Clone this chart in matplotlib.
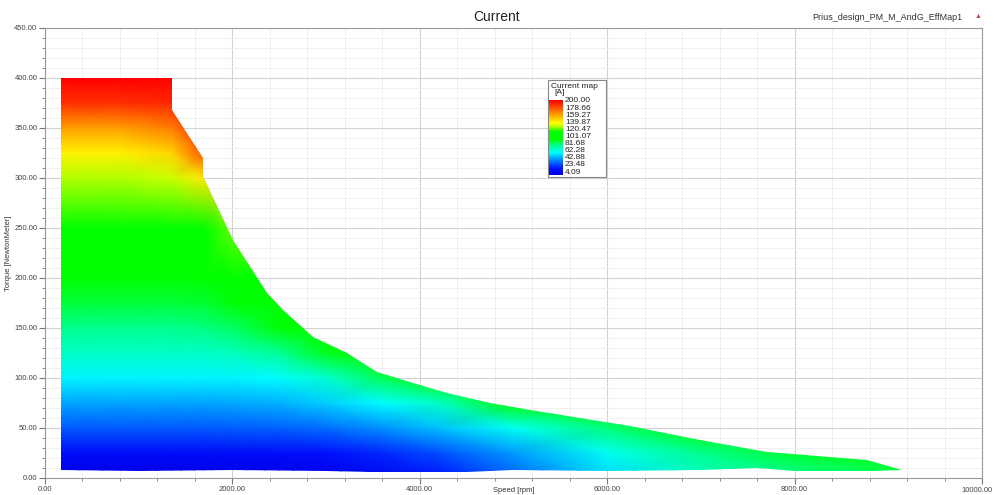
import numpy as np
import matplotlib
matplotlib.use("Agg")
import matplotlib.pyplot as plt
from matplotlib.colors import LinearSegmentedColormap, Normalize
from matplotlib.patches import Polygon, Rectangle
from matplotlib.ticker import MultipleLocator, FormatStrFormatter, FuncFormatter

plt.rcParams['font.family'] = ['Liberation Sans', 'DejaVu Sans']

# speed grid [rpm] and torque grid [Nm] for the current table
speed = [170, 800, 1355, 1690, 2000, 2500, 3000, 3600, 4200, 5000, 6000, 7000, 8000, 9200]
torque = [0, 25, 50, 75, 100, 125, 150, 175, 200, 250, 300, 325, 350, 375, 400]

# current [A], one row per torque value
current = [
    [4, 4, 4, 4, 4, 5, 6, 10, 20, 35, 55, 72, 80, 88],
    [15, 15, 15, 15, 16, 17, 19, 24, 32, 46, 64, 82, 92, 100],
    [34, 34, 34, 34, 35, 36, 38, 44, 52, 64, 84, 100, 106, 112],
    [47, 47, 47, 47, 48, 50, 54, 62, 72, 96, 108, 112, 116, 120],
    [60, 60, 60, 60, 60, 62, 70, 88, 104, 110, 115, 120, 122, 125],
    [72, 72, 72, 72, 73, 80, 94, 106, 112, 115, 118, 122, 125, 128],
    [82, 82, 82, 83, 86, 96, 106, 110, 114, 118, 120, 124, 127, 130],
    [91, 91, 91, 92, 96, 104, 110, 114, 116, 120, 122, 125, 128, 132],
    [100, 100, 100, 102, 108, 110, 114, 116, 120, 122, 125, 128, 130, 134],
    [112, 112, 112, 118, 125, 126, 128, 130, 132, 134, 136, 138, 140, 142],
    [131, 131, 134, 145, 152, 154, 156, 158, 160, 162, 164, 166, 168, 170],
    [143, 143, 150, 178, 180, 180, 180, 180, 180, 180, 180, 180, 180, 180],
    [162, 162, 170, 188, 190, 190, 190, 190, 190, 190, 190, 190, 190, 190],
    [188, 188, 190, 196, 196, 196, 196, 196, 196, 196, 196, 196, 196, 196],
    [200, 200, 200, 200, 200, 200, 200, 200, 200, 200, 200, 200, 200, 200],
]

# outline of the operating region
top_speed = [170, 1352, 1352, 1690, 1690, 2006, 2369, 2540, 2860, 3223, 3543, 3927, 4290, 4749,
             5176, 5710, 6243, 6990, 7705, 8773, 9146]
top_torque = [400, 400, 368, 320, 302, 238, 185, 168, 141, 125, 106, 95, 85, 75,
              68, 60, 52, 38, 26, 18, 8]
bot_speed = [8800, 8000, 7600, 7000, 6000, 5000, 4500, 3500, 3000, 2000, 1000, 170]
bot_torque = [7, 7, 10, 8, 7, 8, 6, 6, 7, 8, 7, 8]

legend_vals = ['200.00', '178.66', '159.27', '139.87', '120.47', '101.07',
               '81.68', '62.28', '42.88', '23.48', '4.09']

stops = [(4.09, '#0000e6'), (20, '#0010ff'), (40, '#0078ff'), (62, '#00ffff'),
         (82, '#00ff8c'), (97, '#00ff00'), (118, '#00ff00'), (130, '#aaff00'),
         (140, '#ffff00'), (160, '#ffaa00'), (180, '#ff5000'), (200, '#ff0000')]
vmin, vmax = 4.09, 200.0
cmap = LinearSegmentedColormap.from_list(
    'ansys', [((v - vmin) / (vmax - vmin), c) for v, c in stops])
norm = Normalize(vmin, vmax)

fig = plt.figure(figsize=(9.95, 4.95), dpi=100)
ax = fig.add_axes([45 / 995, 17 / 495, 937 / 995, 450 / 495])

mesh = ax.pcolormesh(speed, torque, np.array(current), shading='gouraud', cmap=cmap, norm=norm, zorder=2)
outline = Polygon(list(zip(top_speed + bot_speed, top_torque + bot_torque)), closed=True,
                  facecolor='none', edgecolor='none', transform=ax.transData)
ax.add_patch(outline)
mesh.set_clip_path(outline)

ax.set_xlim(0, 10000)
ax.set_ylim(0, 450)
ax.xaxis.set_major_locator(MultipleLocator(2000))
ax.xaxis.set_minor_locator(MultipleLocator(400))
ax.yaxis.set_major_locator(MultipleLocator(50))
ax.yaxis.set_minor_locator(MultipleLocator(10))
# last x label is drawn by hand so it stays inside the picture
ax.xaxis.set_major_formatter(FuncFormatter(lambda v, p: '' if v >= 10000 else '%.2f' % v))
ax.yaxis.set_major_formatter(FormatStrFormatter('%.2f'))
ax.grid(which='major', color='#d2d2d2', lw=0.8, zorder=0)
ax.grid(which='minor', color='#eeeeee', lw=0.6, zorder=0)
ax.set_axisbelow(True)
ax.tick_params(which='major', length=4, width=0.8, color='#777777', labelsize=5.5, labelcolor='#444444', pad=1.5)
ax.tick_params(which='minor', length=2.5, width=0.6, color='#777777')
for s in ax.spines.values():
    s.set_color('#999999')
    s.set_linewidth(0.8)
ax.text(0.9945, -0.019, '%.2f' % 10000, transform=ax.transAxes, ha='center', va='top',
        fontsize=5.5, color='#444444')

ax.set_xlabel('Speed [rpm]', fontsize=5.5, color='#333333', va='top')
ax.xaxis.set_label_coords(0.5, -0.019)
ax.set_ylabel('Torque [NewtonMeter]', fontsize=5.5, color='#333333', labelpad=2)

fig.text(497 / 995, 1 - 17 / 495, 'Current', ha='center', va='center', fontsize=10, color='#222222')
fig.text(962 / 995, 1 - 17 / 495, 'Prius_design_PM_M_AndG_EffMap1', ha='right', va='center',
         fontsize=6.5, color='#333333')
fig.text(978 / 995, 1 - 16 / 495, '\u25b2', ha='center', va='center', fontsize=5, color='#c04040')

# legend box
fig.patches.append(Rectangle((548 / 995, 1 - 177 / 495), 58 / 995, 97 / 495, transform=fig.transFigure,
                             facecolor='white', edgecolor='#888888', lw=0.8, zorder=5))
fig.text(551 / 995, 1 - 86 / 495, 'Current map', fontsize=6, color='#222222', va='center', zorder=6)
fig.text(554 / 995, 1 - 93 / 495, '[A]', fontsize=6, color='#222222', va='center', zorder=6)
cax = fig.add_axes([549 / 995, 1 - 175 / 495, 14 / 995, 75 / 495], zorder=6)
cax.imshow(np.linspace(vmax, vmin, 200).reshape(-1, 1), aspect='auto', cmap=cmap, norm=norm)
cax.set_xticks([])
cax.set_yticks([])
for s in cax.spines.values():
    s.set_visible(False)
for i, lab in enumerate(legend_vals):
    fig.text(565 / 995, 1 - (101 + i * 7.1) / 495, lab, fontsize=6, color='#222222', va='center', zorder=7)

fig.savefig('out.png', dpi=100)
